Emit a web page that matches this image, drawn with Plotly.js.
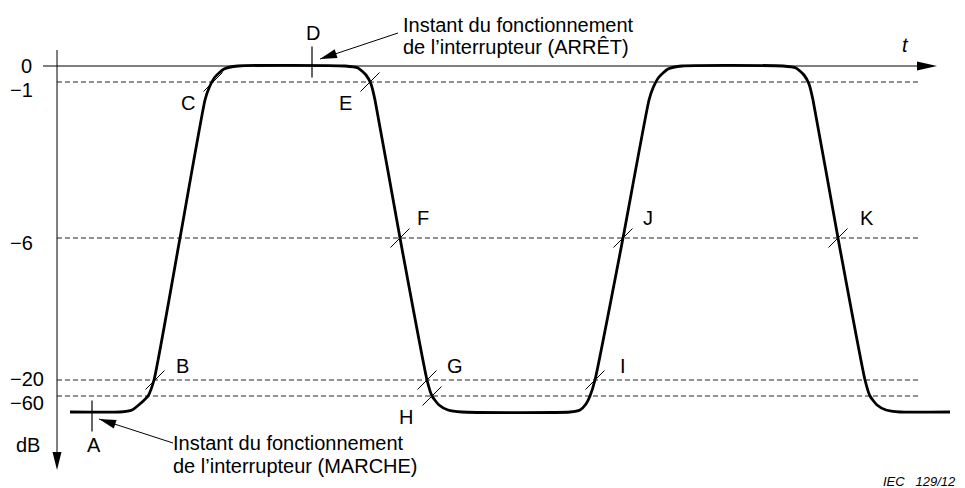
<!DOCTYPE html>
<html>
<head>
<meta charset="utf-8">
<script src="https://cdn.plot.ly/plotly-3.0.1.min.js"></script>
<style>
  html, body { margin: 0; padding: 0; background: #fff; }
  #chart { width: 965px; height: 488px; }
</style>
</head>
<body>
<div id="chart"></div>
<script>
// schematic units: 1 unit = 1 px, t from the dB axis, level upward from 0 dB
let curve_t = [13, 63, 75, 84, 91, 97, 123, 148, 152, 158, 167, 181, 288, 301, 309, 314, 318, 343, 370, 375, 382, 391, 405,
               513, 523, 529, 533, 538, 566, 592, 596, 602, 611, 625, 726, 739, 747, 752, 756, 781, 808, 813, 820, 829, 843, 893];
let curve_lvl = [-346, -346, -344, -337, -330, -314, -172, -34, -22, -11, -3, 0, 0, -2, -9, -18, -34, -172, -314, -330, -339, -344, -346,
                 -346, -344, -338, -330, -314, -172, -34, -22, -11, -3, 0, 0, -2, -9, -18, -34, -172, -314, -330, -339, -344, -346, -346];

// reference levels (position on the schematic axis) and their labels
let level_names = ["0", "\u22121", "\u22126", "\u221220", "\u221260"];
let level_pos = [0, -16, -172, -314, -330];
let level_label_pos = [0, -24, -177, -313, -337];
let dash_end = 863;

// crossing points with a slash mark
let cross_t = [156, 313, 343, 566, 781, 98, 370, 375, 538];
let cross_lvl = [-16, -16, -172, -172, -172, -314, -314, -330, -314];

// point letters
let pt_names = ["D", "C", "E", "F", "J", "K", "B", "G", "H", "I", "A"];
let pt_t = [256, 131, 288, 366, 591, 810, 125, 398, 349, 566, 37];
let pt_lvl = [33, -37, -37, -152, -152, -152, -300, -300, -351, -300, -379];

// switch instants (vertical ticks)
let switch_t = [255, 35];
let switch_lvl = [4, -350];

const FONT = "Liberation Sans, Arial, sans-serif";

function arrowHead(tx, ty, fx, fy, len, half) {
    let dx = tx - fx, dy = ty - fy;
    let d = Math.sqrt(dx * dx + dy * dy);
    dx /= d; dy /= d;
    let bx = -dx * len, by = -dy * len;
    let nx = -dy * half, ny = dx * half;
    return {
        type: "path", xref: "x", yref: "y",
        xsizemode: "pixel", ysizemode: "pixel",
        xanchor: tx, yanchor: ty,
        path: "M0,0L" + (bx + nx).toFixed(2) + "," + (by + ny).toFixed(2) +
              "L" + (bx - nx).toFixed(2) + "," + (by - ny).toFixed(2) + "Z",
        fillcolor: "#000", line: {width: 0}
    };
}

function pointer(fx, fy, tx, ty) {
    return [
        {type: "line", xref: "x", yref: "y", x0: fx, y0: fy, x1: tx, y1: ty, line: {color: "#000", width: 1}},
        arrowHead(tx, ty, fx, fy, 17, 4.5)
    ];
}

function textNote(x, y, text, opts) {
    return Object.assign({
        x: x, y: y, xref: "x", yref: "y", text: text, showarrow: false,
        xanchor: "left", yanchor: "middle",
        font: {family: FONT, size: 20, color: "#000"}
    }, opts || {});
}

let traces = [];

// dashed level lines
for (let i = 1; i < level_pos.length; i++) {
    traces.push({
        x: [0, dash_end], y: [level_pos[i], level_pos[i]],
        type: "scatter", mode: "lines", hoverinfo: "skip",
        line: {color: "#222", width: 1, dash: "5px,3px"}
    });
}

// the response curve
traces.push({
    x: curve_t, y: curve_lvl,
    type: "scatter", mode: "lines", hoverinfo: "skip",
    line: {color: "#000", width: 2.8, shape: "spline", smoothing: 0.5}
});

// slash marks
traces.push({
    x: cross_t, y: cross_lvl,
    type: "scatter", mode: "markers", hoverinfo: "skip",
    marker: {symbol: "line-ne", size: 19, color: "#000", line: {color: "#000", width: 1}}
});

// switching instants
traces.push({
    x: switch_t, y: switch_lvl,
    type: "scatter", mode: "markers", hoverinfo: "skip",
    marker: {symbol: "line-ns", size: 22, color: "#000", line: {color: "#000", width: 1.2}}
});

let shapes = [
    // time axis (0 dB)
    {type: "line", xref: "x", yref: "y", x0: -14, y0: 0, x1: 866, y1: 0, line: {color: "#000", width: 1}},
    arrowHead(880, 0, 0, 0, 20, 4.5),
    // dB axis
    {type: "line", xref: "x", yref: "y", x0: 0, y0: 16, x1: 0, y1: -392, line: {color: "#000", width: 1}},
    arrowHead(0, -404, 0, 0, 18, 4.5)
].concat(pointer(341, 33, 263, 7), pointer(116, -377, 42, -353));

let annotations = [];
for (let i = 0; i < level_names.length; i++) {
    if (i == 0) {
        annotations.push(textNote(-31, level_label_pos[i], level_names[i], {xanchor: "center"}));
    } else {
        annotations.push(textNote(-49, level_label_pos[i], level_names[i]));
    }
}
annotations.push(textNote(-29, -379, "dB", {xanchor: "center"}));
for (let i = 0; i < pt_names.length; i++) {
    annotations.push(textNote(pt_t[i], pt_lvl[i], pt_names[i], {xanchor: "center"}));
}
annotations.push(textNote(848, 21, "<i>t</i>", {xanchor: "center"}));
annotations.push(textNote(344, 41, "Instant du fonctionnement"));
annotations.push(textNote(344, 19, "de l\u2019interrupteur (ARR\u00CAT)"));
annotations.push(textNote(114, -377, "Instant du fonctionnement"));
annotations.push(textNote(114, -400, "de l\u2019interrupteur (MARCHE)"));
annotations.push(textNote(824, -406, "<i>IEC   129/12</i>", {yanchor: "top", font: {family: FONT, size: 13, color: "#000"}}));

let layout = {
    width: 965, height: 488,
    margin: {l: 0, r: 0, t: 0, b: 0},
    paper_bgcolor: "#fff", plot_bgcolor: "#fff",
    showlegend: false,
    xaxis: {range: [-57, 908], visible: false, fixedrange: true},
    yaxis: {range: [-422, 66], visible: false, fixedrange: true},
    shapes: shapes,
    annotations: annotations
};

Plotly.newPlot("chart", traces, layout, {staticPlot: true});
</script>
</body>
</html>
